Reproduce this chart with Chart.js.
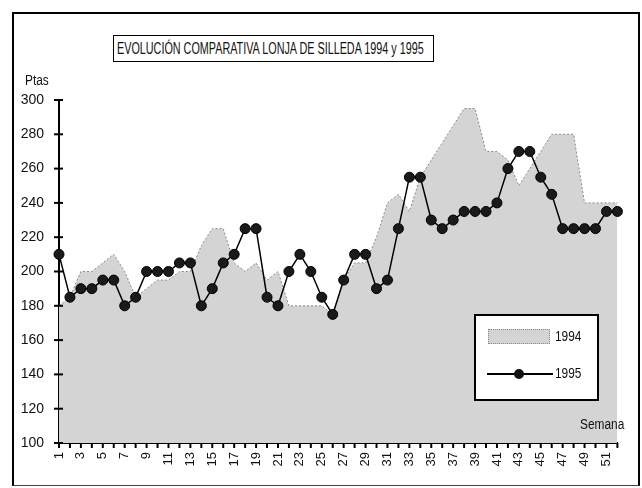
<!DOCTYPE html>
<html>
<head>
<meta charset="utf-8">
<script src="https://cdn.jsdelivr.net/npm/chart.js@4.4.1/dist/chart.umd.min.js"></script>
<style>
body{margin:0;background:#fff;font-family:"Liberation Sans",Arial,sans-serif;color:#111}
#wrap{position:relative;width:642px;height:488px;overflow:hidden}
#frame{position:absolute;left:12px;top:12px;width:624px;height:471px;border:2px solid #000;border-bottom:1px solid #444}
canvas{position:absolute;left:0;top:0}
#title{position:absolute;left:113px;top:35px;width:316px;height:25px;border:1.5px solid #000;font-size:16px;line-height:26px;padding-left:3px;white-space:nowrap;background:#fff}
#title span{display:inline-block;transform:scaleX(0.675);transform-origin:left center}
.nar{display:inline-block;transform:scaleX(0.85);transform-origin:left center}
#ptas{position:absolute;left:25px;top:72px;font-size:14px}
#semana{position:absolute;left:580px;top:416px;font-size:14px}
#legend{position:absolute;left:474px;top:314px;width:121px;height:83px;border:2px solid #000;background:#fff}
#sw{position:absolute;left:12px;top:13px;width:60px;height:13px;background:#d4d4d4;border:1px dotted #888}
#ln{position:absolute;left:11px;top:57px;width:66px;height:1.5px;background:#000}
#dot{position:absolute;left:38px;top:53px;width:10px;height:10px;border-radius:50%;background:#111}
.lt{position:absolute;left:79px;font-size:14px}
</style>
</head>
<body>
<div id="wrap">
  <div id="frame"></div>
  <canvas id="c" width="642" height="488"></canvas>
  <div id="title"><span>EVOLUCIÓN COMPARATIVA LONJA DE SILLEDA 1994 y 1995</span></div>
  <div id="ptas"><span class="nar">Ptas</span></div>
  <div id="semana"><span class="nar">Semana</span></div>
  <div id="legend">
    <div id="sw"></div><div class="lt" style="top:12px"><span class="nar">1994</span></div>
    <div id="ln"></div><div id="dot"></div><div class="lt" style="top:49px"><span class="nar">1995</span></div>
  </div>
</div>
<script>
// semanas del año
const weeks = ['1','2','3','4','5','6','7','8','9','10','11','12','13','14','15','16','17','18','19','20',
  '21','22','23','24','25','26','27','28','29','30','31','32','33','34','35','36','37','38','39','40',
  '41','42','43','44','45','46','47','48','49','50','51','52'];

const ptas1994 = [180,185,200,200,205,210,200,185,190,195,195,200,200,215,225,225,205,200,205,195,
  200,180,180,180,180,175,195,205,205,220,240,245,235,255,265,275,285,295,295,270,
  270,265,250,260,270,280,280,280,240,240,240,240];

const ptas1995 = [210,185,190,190,195,195,180,185,200,200,200,205,205,180,190,205,210,225,225,185,
  180,200,210,200,185,175,195,210,210,190,195,225,255,255,230,225,230,235,235,235,
  240,260,270,270,255,245,225,225,225,225,235,235];

const yTicks = [100,120,140,160,180,200,220,240,260,280,300];

const tickMarks = {
  id: 'tickMarks',
  afterDraw(chart) {
    const ctx = chart.ctx;
    const x = chart.scales.x, y = chart.scales.y;
    ctx.save();
    ctx.strokeStyle = '#000';
    ctx.lineWidth = 2;
    y.ticks.forEach((t, i) => {
      const py = y.getPixelForTick(i);
      ctx.beginPath(); ctx.moveTo(x.left - 5, py); ctx.lineTo(x.left + 4, py); ctx.stroke();
    });
    x.ticks.forEach((t, i) => {
      const px = x.getPixelForTick(i);
      ctx.beginPath(); ctx.moveTo(px, y.bottom); ctx.lineTo(px, y.bottom + 5); ctx.stroke();
    });
    ctx.restore();
  }
};

new Chart(document.getElementById('c'), {
  type: 'line',
  data: {
    labels: weeks,
    datasets: [
      {
        label: '1995',
        data: ptas1995,
        order: 0,
        borderColor: '#000',
        borderWidth: 1.5,
        pointRadius: 5,
        pointBackgroundColor: '#1a1a1a',
        pointBorderColor: '#000',
        pointBorderWidth: 1,
        tension: 0,
        fill: false
      },
      {
        label: '1994',
        data: ptas1994,
        order: 1,
        borderColor: '#8a8a8a',
        borderWidth: 1,
        borderDash: [2, 2],
        backgroundColor: '#d4d4d4',
        pointRadius: 0,
        tension: 0,
        fill: 'start'
      }
    ]
  },
  options: {
    responsive: false,
    animation: false,
    layout: { padding: { top: 100, right: 14, left: 0, bottom: 0 } },
    plugins: { legend: { display: false }, tooltip: { enabled: false } },
    scales: {
      x: {
        offset: false,
        grid: { display: false, drawTicks: false },
        border: { display: true, color: '#000', width: 2 },
        ticks: {
          autoSkip: false,
          maxRotation: 90,
          minRotation: 90,
          padding: 9,
          color: '#111',
          font: { family: '"Liberation Sans", Arial, sans-serif', size: 13 },
          callback: (v, i) => (i % 2 === 0 ? weeks[i] : '')
        },
        afterFit: s => { s.height = 45; }
      },
      y: {
        min: 100,
        max: 300,
        afterBuildTicks: s => { s.ticks = yTicks.map(v => ({ value: v })); },
        grid: { display: false, drawTicks: false },
        border: { display: true, color: '#000', width: 2 },
        ticks: {
          padding: 15,
          color: '#111',
          font: { family: '"Liberation Sans", Arial, sans-serif', size: 14 }
        },
        afterFit: s => { s.width = 59; }
      }
    }
  },
  plugins: [tickMarks]
});
</script>
</body>
</html>
